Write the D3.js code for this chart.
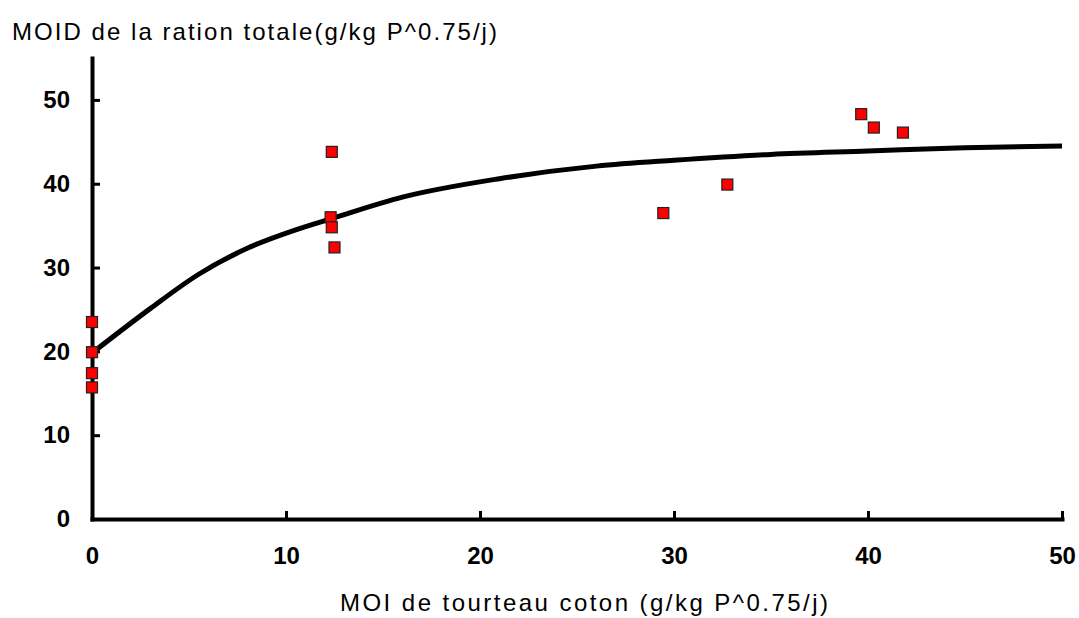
<!DOCTYPE html>
<html>
<head>
<meta charset="utf-8">
<script src="https://cdn.jsdelivr.net/npm/d3@7"></script>
<style>
  body { margin: 0; background: #fff; }
  text { font-family: "Liberation Sans", Arial, sans-serif; }
</style>
</head>
<body>
<div id="chart"></div>
<script>
// observed points
const obsX = [0, 0, 0, 0, 12.36, 12.3, 12.36, 12.5, 29.45, 32.75, 39.65, 40.3, 41.8]
const obsY = [23.5, 19.9, 17.4, 15.7, 43.8, 36.0, 34.8, 32.4, 36.5, 39.9, 48.3, 46.7, 46.1]

// fitted curve
const fitX = [0, 3, 5.5, 8, 10.5, 12.3, 16, 21, 26, 30, 35, 40, 45, 50]
const fitY = [19.8, 25.1, 29.2, 32.3, 34.5, 35.8, 38.4, 40.6, 42.1, 42.8, 43.5, 43.9, 44.3, 44.5]

const xTicks = [0, 10, 20, 30, 40, 50]
const yTicks = [0, 10, 20, 30, 40, 50]

const margin = { top: 58, left: 92, right: 17, bottom: 99 }
const width = 1079 - margin.left - margin.right
const height = 618 - margin.top - margin.bottom

const svg = d3.select('#chart')
  .append('svg')
  .attr('width', 1079)
  .attr('height', 618)

const g = svg.append('g')
  .attr('transform', 'translate(' + margin.left + ',' + margin.top + ')')

const xPositionScale = d3.scaleLinear().domain([0, 50]).range([0, width])
const yPositionScale = d3.scaleLinear().domain([0, 55]).range([height, 0])

// axes: ticks pointing inward
const xAxis = d3.axisBottom(xPositionScale)
  .tickValues(xTicks)
  .tickSizeInner(-8)
  .tickSizeOuter(0)
  .tickPadding(28)
g.append('g')
  .attr('class', 'axis x-axis')
  .attr('transform', 'translate(0,' + height + ')')
  .call(xAxis)

const yAxis = d3.axisLeft(yPositionScale)
  .tickValues(yTicks)
  .tickSizeInner(-8)
  .tickSizeOuter(0)
  .tickPadding(22)
g.append('g')
  .attr('class', 'axis y-axis')
  .call(yAxis)

g.selectAll('.axis path')
  .attr('stroke', '#000')
  .attr('stroke-width', 4)
  .attr('stroke-linecap', 'square')
g.selectAll('.axis line')
  .attr('stroke', '#000')
  .attr('stroke-width', 3)
g.selectAll('.axis text')
  .attr('font-size', 24)
  .attr('font-weight', 'bold')
  .attr('fill', '#000')

// fitted curve
const line = d3.line()
  .x(d => xPositionScale(d[0]))
  .y(d => yPositionScale(d[1]))
  .curve(d3.curveMonotoneX)

g.append('path')
  .datum(d3.zip(fitX, fitY))
  .attr('fill', 'none')
  .attr('stroke', '#000')
  .attr('stroke-width', 5)
  .attr('d', line)

// points
const s = 11
g.selectAll('rect.pt')
  .data(d3.zip(obsX, obsY))
  .enter()
  .append('rect')
  .attr('class', 'pt')
  .attr('x', d => xPositionScale(d[0]) - s / 2)
  .attr('y', d => yPositionScale(d[1]) - s / 2)
  .attr('width', s)
  .attr('height', s)
  .attr('fill', '#ff0000')
  .attr('stroke', '#222')
  .attr('stroke-width', 1.2)

// titles
svg.append('text')
  .attr('x', 12)
  .attr('y', 40)
  .attr('font-size', 24)
  .attr('textLength', 485)
  .attr('lengthAdjust', 'spacing')
  .attr('fill', '#000')
  .text('MOID de la ration totale(g/kg P^0.75/j)')

svg.append('text')
  .attr('x', 340)
  .attr('y', 611)
  .attr('font-size', 24)
  .attr('textLength', 488)
  .attr('lengthAdjust', 'spacing')
  .attr('fill', '#000')
  .text('MOI de tourteau coton (g/kg P^0.75/j)')
</script>
</body>
</html>
